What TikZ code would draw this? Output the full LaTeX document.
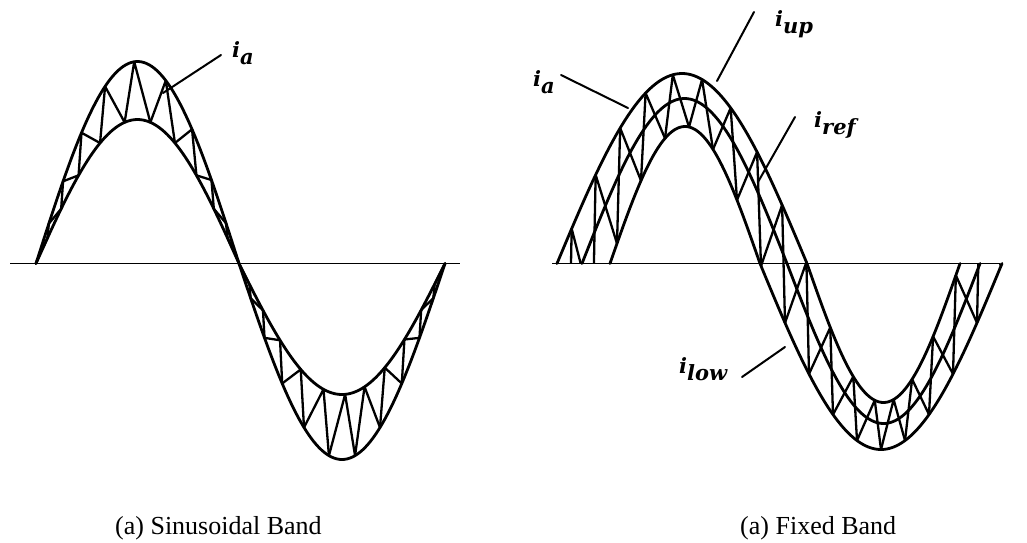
\documentclass[tikz,border=0pt]{standalone}
\usepackage{fontspec}
\setmainfont{Liberation Serif}
\newfontfamily\lblfont{DejaVu Serif}
\begin{document}
\begin{tikzpicture}[x=1pt,y=-1pt, line join=round, line cap=round,
  declare function={
    thL(\x)=((\x<=239) ? ((\x-36)/203*180) : (180+(\x-239)/206*180));
    outL(\x)=((\x<=239) ? 202 : 196)*sin(thL(\x));
    inL(\x)=((\x<=239) ? 144 : 131)*sin(thL(\x));
    upL(\x)=max(outL(\x),inL(\x));
    lowL(\x)=min(outL(\x),inL(\x));
    slL(\x)=((\x<=239) ? (173/203*pi) : (163.5/206*pi))*cos(thL(\x));
    gw(\t)=\t-11.46*sin(2*\t);
    xwL(\t)=((\t<=180) ? (36+gw(\t)/180*203) : (239+gw(\t-180)/180*206));
    uR(\x)=((\x<=807) ? (190*sin((\x-557)/250*180)) : (139*sin(180+(\x-807)/153*180)));
    rR(\x)=((\x<=787) ? (165*sin((\x-582)/205*180)) : (160*sin(180+(\x-787)/193*180)));
    lR(\x)=((\x<=760) ? (137*sin((\x-610)/150*180)) : (186*sin(180+(\x-760)/242*180)));
    slR(\x)=((\x<=787) ? (165/205*pi*cos((\x-582)/205*180)) : (160/193*pi*cos(180+(\x-787)/193*180)));
  },
  curve/.style={line width=2.8pt},
  zig/.style={line width=2.3pt},
  axisline/.style={line width=1.6pt, line cap=butt},
  leader/.style={line width=2pt},
  lbl/.style={font=\lblfont\bfseries\itshape\fontsize{21}{24}\selectfont, inner sep=0pt, anchor=base west},
  captxt/.style={font=\fontsize{26}{30}\selectfont, inner sep=0pt, anchor=base west}]
\useasboundingbox (0,0) rectangle (1027,542);

% ---------------- left: sinusoidal band ----------------
\draw[axisline] (10,263.5) -- (460,263.5);
\draw[curve] plot[domain=36:445, samples=160, variable=\x] (\x,{263.5-outL(\x)});
\draw[curve] plot[domain=36:445, samples=160, variable=\x] (\x,{263.5-inL(\x)});
\pgfmathsetmacro\dT{180/11}
\foreach \k in {0,...,21}{
  \pgfmathsetmacro\xA{xwL(\k*\dT)}
  \pgfmathsetmacro\xB{xwL((\k+1)*\dT)}
  \pgfmathsetmacro\sv{0.5*slL(\xA)}
  \pgfmathsetmacro\alp{0.5*(1-\sv/sqrt(1+\sv*\sv))}
  \pgfmathsetmacro\xU{\xA+\alp*(\xB-\xA)}
  \draw[zig] (\xA,{263.5-lowL(\xA)}) -- (\xU,{263.5-upL(\xU)}) -- (\xB,{263.5-lowL(\xB)});
}
\node[lbl] (ia1) at (232,57) {i\raisebox{-7pt}{a}};
\coordinate (ia1s) at (221,55);
\coordinate (ia1e) at (163,93);
\draw[leader] (ia1s) -- (ia1e);

% ---------------- right: fixed band ----------------
\draw[axisline] (552,263.5) -- (1000,263.5);
\draw[curve] plot[domain=557:960, samples=200, variable=\x] (\x,{263.5-uR(\x)});
\draw[curve] plot[domain=582:980, samples=200, variable=\x] (\x,{263.5-rR(\x)});
\draw[curve] plot[domain=610:1002, samples=200, variable=\x] (\x,{263.5-lR(\x)});
\begin{scope}
\clip (500,0) -- (900,0) -- (900,263.5) -- (1027,263.5) -- (1027,542) -- (700,542) -- (700,263.5) -- (500,263.5) -- cycle;
\pgfmathsetmacro\dR{24}
\foreach \k in {0,...,19}{
  \pgfmathsetmacro\xA{545+\k*\dR}
  \pgfmathsetmacro\xB{545+(\k+1)*\dR}
  \pgfmathsetmacro\sv{0.5*slR(\xA)}
  \pgfmathsetmacro\alp{0.5*(1-\sv/sqrt(1+\sv*\sv))}
  \pgfmathsetmacro\xU{\xA+\alp*\dR}
  \draw[zig] (\xA,{263.5-lR(\xA)}) -- (\xU,{263.5-uR(\xU)}) -- (\xB,{263.5-lR(\xB)});
}
\end{scope}

\node[lbl] (ia2) at (533,86) {i\raisebox{-7pt}{a}};
\coordinate (ia2s) at (561,75);
\coordinate (ia2e) at (628,108);
\draw[leader] (ia2s) -- (ia2e);

\node[lbl] (iup) at (775,26) {i\raisebox{-7pt}{up}};
\coordinate (iups) at (754,12);
\coordinate (iupe) at (717,81);
\draw[leader] (iups) -- (iupe);

\node[lbl] (iref) at (814,127) {i\raisebox{-7pt}{ref}};
\coordinate (irefs) at (795,117);
\coordinate (irefe) at (758,182);
\draw[leader] (irefs) -- (irefe);

\node[lbl] (ilow) at (679,373) {i\raisebox{-7pt}{low}};
\coordinate (ilows) at (742,377);
\coordinate (ilowe) at (785,347);
\draw[leader] (ilows) -- (ilowe);

% ---------------- captions ----------------
\node[captxt] (cap1) at (115,534) {(a) Sinusoidal Band};
\node[captxt] (cap2) at (740,534) {(a) Fixed Band};
\end{tikzpicture}
\end{document}
